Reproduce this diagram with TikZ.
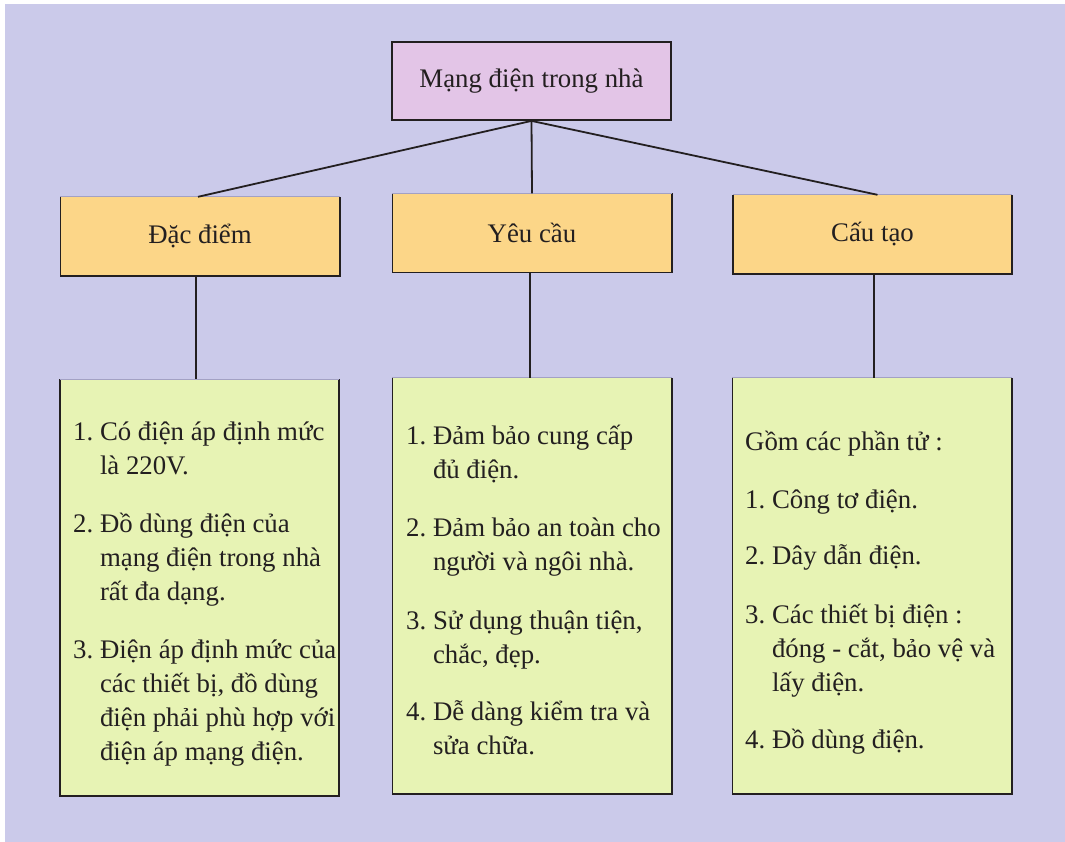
\documentclass[tikz,border=0pt]{standalone}
\usepackage{fontspec}
\setmainfont{Liberation Serif}
\definecolor{bgc}{HTML}{CBCAEA}
\definecolor{pinkc}{HTML}{E3C5E7}
\definecolor{orangec}{HTML}{FCD688}
\definecolor{greenc}{HTML}{E7F3B4}
\definecolor{ink}{HTML}{231F20}
\definecolor{lightedge}{HTML}{A3A1C4}
\newcommand\myind{\phantom{1.~}}
\begin{document}
\begin{tikzpicture}[x=1pt,y=-1pt,
  txt/.style={font=\fontsize{26.8}{34}\selectfont, text=ink},
  rootbox/.style={txt, draw=ink, line width=1.8pt, fill=pinkc, minimum width=279pt, minimum height=78pt, inner sep=0pt},
  headbox/.style={txt, fill=orangec, minimum width=279pt, minimum height=79pt, inner sep=0pt},
  listbox/.style={fill=greenc, minimum width=279pt, minimum height=416pt, inner sep=0pt},
  item/.style={txt, anchor=base west, align=left, inner sep=0pt},
  conn/.style={draw=ink, line width=1.8pt},
  darkedge/.style={draw=ink, line width=1.6pt},
  topedge/.style={draw=lightedge, line width=1pt}]
\useasboundingbox (0,0) rectangle (1065,842);
\fill[bgc] (5,4) rectangle (1065,842);

% boxes
\node[rootbox] (root) at (531.5,81) {Mạng điện trong nhà};
\node[headbox] (dd) at (200,236.5) {Đặc điểm};
\node[headbox] (yc) at (532,233) {Yêu cầu};
\node[headbox] (ct) at (872.5,234.5) {Cấu tạo};
\node[listbox] (l1) at (199.5,587.5) {};
\node[listbox] (l2) at (532,586) {};
\node[listbox] (l3) at (872,586) {};

\foreach \n in {dd,yc,ct,l1,l2,l3}{
  \draw[darkedge] (\n.north west) -- (\n.south west) -- (\n.south east) -- (\n.north east);
  \draw[topedge] (\n.north west) -- (\n.north east);
}

% connectors
\draw[conn] (root.south) -- ([xshift=-2pt]dd.north);
\draw[conn] (root.south) -- (yc.north);
\draw[conn] (root.south) -- ([xshift=5pt]ct.north);
\draw[conn] ([xshift=-4pt]dd.south) -- ([xshift=-3.5pt]l1.north);
\draw[conn] ([xshift=-2pt]yc.south) -- ([xshift=-2pt]l2.north);
\draw[conn] ([xshift=1.5pt]ct.south) -- ([xshift=2pt]l3.north);

% left list (base = baseline of last line)
\node[item] (a1) at (73,474) {1.~Có điện áp định mức\\\myind là 220V.};
\node[item] (a2) at (73,600) {2.~Đồ dùng điện của\\\myind mạng điện trong nhà\\\myind rất đa dạng.};
\node[item] (a3) at (73,760) {3.~Điện áp định mức của\\\myind các thiết bị, đồ dùng\\\myind điện phải phù hợp với\\\myind điện áp mạng điện.};

% middle list
\node[item] (b1) at (406,478) {1.~Đảm bảo cung cấp\\\myind đủ điện.};
\node[item] (b2) at (406,570) {2.~Đảm bảo an toàn cho\\\myind người và ngôi nhà.};
\node[item] (b3) at (406,663) {3.~Sử dụng thuận tiện,\\\myind chắc, đẹp.};
\node[item] (b4) at (406,754) {4.~Dễ dàng kiểm tra và\\\myind sửa chữa.};

% right list
\node[item] (c0) at (745,450) {Gồm các phần tử :};
\node[item] (c1) at (745,508) {1.~Công tơ điện.};
\node[item] (c2) at (745,564) {2.~Dây dẫn điện.};
\node[item] (c3) at (745,691) {3.~Các thiết bị điện :\\\myind đóng - cắt, bảo vệ và\\\myind lấy điện.};
\node[item] (c4) at (745,748) {4.~Đồ dùng điện.};
\end{tikzpicture}
\end{document}
